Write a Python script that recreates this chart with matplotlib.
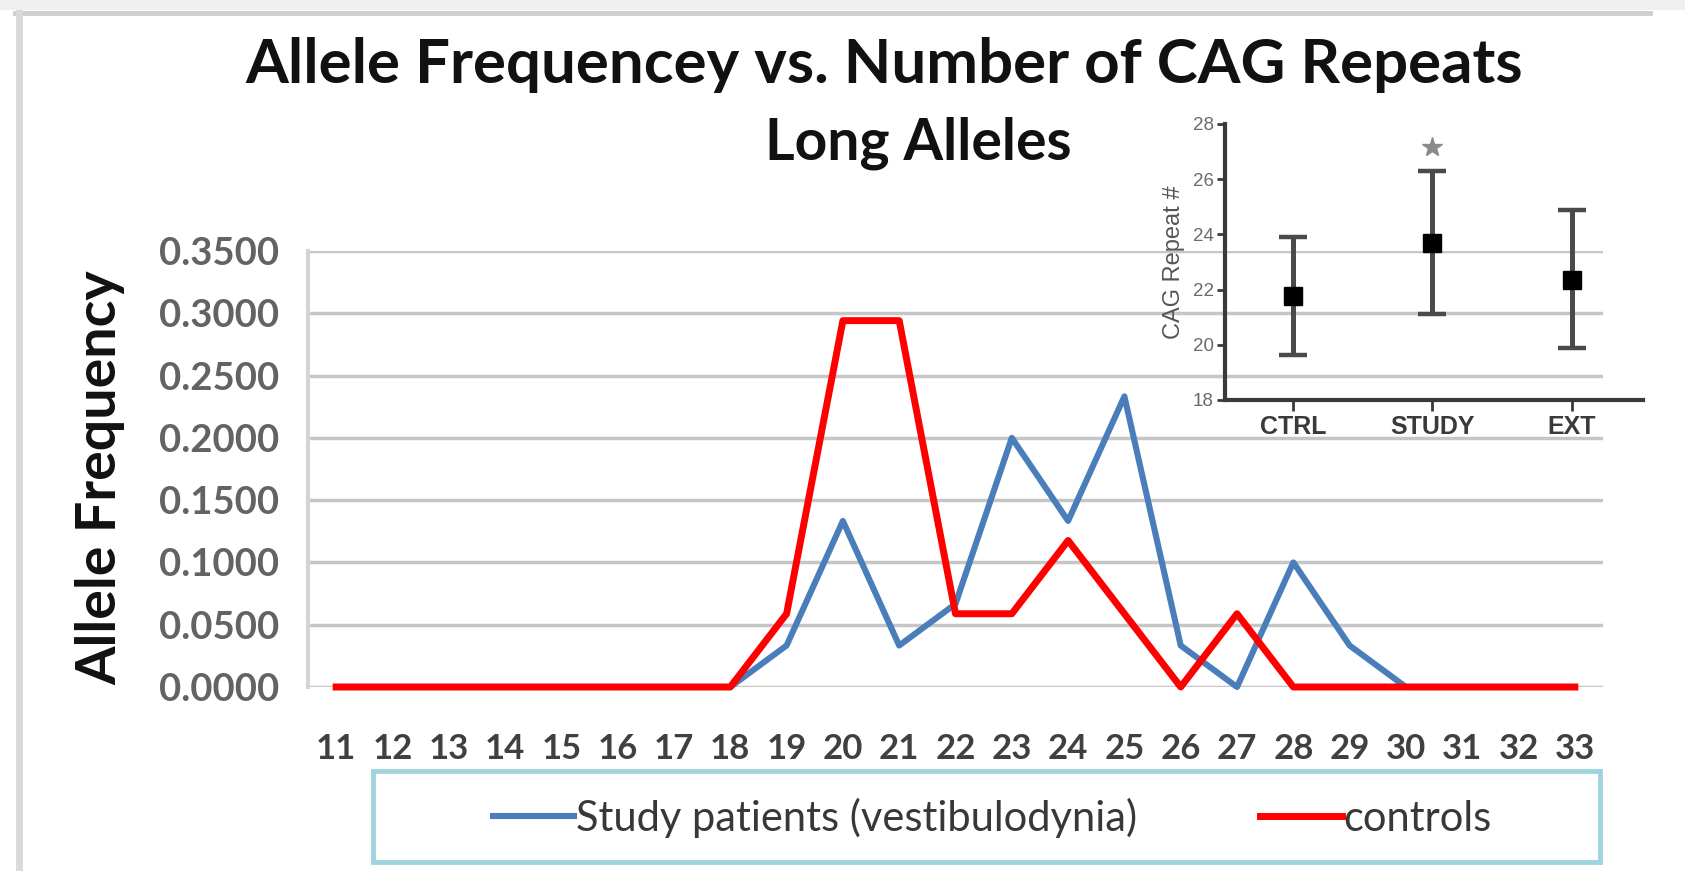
import matplotlib
matplotlib.use('Agg')
import matplotlib.pyplot as plt
from matplotlib.patches import Rectangle
from matplotlib.lines import Line2D
import numpy as np

# ---------------- data ----------------
repeats = [str(r) for r in range(11, 34)]
study = [0, 0, 0, 0, 0, 0, 0, 0,
         0.0333, 0.1333, 0.0333, 0.0667, 0.2000, 0.1333, 0.2333,
         0.0333, 0.0000, 0.1000, 0.0333, 0, 0, 0, 0]
controls = [0, 0, 0, 0, 0, 0, 0, 0,
            0.0588, 0.2941, 0.2941, 0.0588, 0.0588, 0.1176, 0.0588,
            0.0000, 0.0588, 0.0000, 0, 0, 0, 0, 0]
series_names = ["Study patients (vestibulodynia)", "controls"]
y_ticks = [0.0, 0.05, 0.10, 0.15, 0.20, 0.25, 0.30, 0.35]

inset_groups = ["CTRL", "STUDY", "EXT"]
inset_mean = [21.75, 23.70, 22.36]
inset_low = [19.64, 21.13, 19.90]
inset_high = [23.90, 26.29, 24.90]
inset_ticks = [18, 20, 22, 24, 26, 28]
star_y = 27.16

title_line1 = "Allele Frequencey vs. Number of CAG Repeats"
title_line2 = "Long Alleles"

# ---------------- figure ----------------
W, H = 1685, 871
fig = plt.figure(figsize=(W / 100, H / 100), dpi=100)
fig.patch.set_facecolor('white')

def fx(px):
    return px / W

def fy(py):
    return 1 - py / H

# outer chart-area frame
fig.patches.append(Rectangle((0, fy(10)), 1, 10 / H, transform=fig.transFigure,
                             facecolor='#efefef', edgecolor='none', zorder=0))
fig.add_artist(Line2D([fx(15), fx(1650)], [fy(13), fy(13)], transform=fig.transFigure,
                      color='#cfcfcf', lw=3.5))
fig.add_artist(Line2D([fx(19), fx(19)], [fy(13), fy(871)], transform=fig.transFigure,
                      color='#dadada', lw=5))

# ---------------- main axes ----------------
ax = fig.add_axes([fx(308), fy(687), fx(1603) - fx(308), (687 - 251) / H])
x = np.arange(len(repeats))
ax.plot(x, study, color='#4A7EBB', lw=4.4, label=series_names[0], clip_on=False,
        zorder=3)
ax.plot(x, controls, color='#FF0000', lw=5.0, label=series_names[1], clip_on=False,
        zorder=4)
ax.set_xlim(-0.5, len(repeats) - 0.5)
ax.set_ylim(0, 0.35)
ax.set_yticks(y_ticks)
ax.set_yticklabels([f"{v:.4f}" for v in y_ticks])
ax.set_xticks(x)
ax.set_xticklabels(repeats)
ax.yaxis.grid(True, color='#c6c6c6', lw=2.5)
ax.set_axisbelow(True)
for s in ['top', 'right', 'bottom']:
    ax.spines[s].set_visible(False)
ax.spines['left'].set_color('#d4d4d4')
ax.spines['left'].set_linewidth(3)
ax.tick_params(axis='both', length=0)
ax.tick_params(axis='y', pad=21)
ax.tick_params(axis='x', pad=33)
for lab in ax.get_yticklabels():
    lab.set_fontfamily('Lato')
    lab.set_fontweight('bold')
    lab.set_fontsize(27.5)
    lab.set_color('#636363')
for lab in ax.get_xticklabels():
    lab.set_fontfamily('Lato')
    lab.set_fontweight('bold')
    lab.set_fontsize(25)
    lab.set_color('#404040')
ax.set_facecolor('white')

# titles and axis label
fig.text(fx(884), fy(83), title_line1, ha='center', va='baseline',
         fontsize=44.5, fontweight='bold', family='Lato', color='#111111')
fig.text(fx(918), fy(159), title_line2, ha='center', va='baseline',
         fontsize=41, fontweight='bold', family='Lato', color='#111111')
fig.text(fx(100), fy(478), "Allele Frequency", rotation=90, ha='center', va='center',
         fontsize=40, fontweight='bold', family='Lato', color='#111111')

# legend
fig.patches.append(Rectangle((fx(373), fy(862)), (1600 - 373) / W, (862 - 771) / H,
                             transform=fig.transFigure, facecolor='white',
                             edgecolor='#9fd4de', lw=3.5, zorder=1))
handles, labels = ax.get_legend_handles_labels()
leg = fig.legend(handles, labels, loc='center left', bbox_to_anchor=(fx(493), fy(818)),
                 ncol=2, frameon=False, borderpad=0, borderaxespad=0,
                 handlelength=1.95, handletextpad=0.05, columnspacing=2.95,
                 prop={'family': 'Lato', 'size': 30})
for t in leg.get_texts():
    t.set_color('#383838')

# ---------------- inset ----------------
ia = fig.add_axes([fx(1225), fy(400), fx(1643) - fx(1225), (400 - 124) / H])
ia.patch.set_alpha(0)
gx = np.arange(len(inset_groups))
mean = np.array(inset_mean)
err = np.array([mean - np.array(inset_low), np.array(inset_high) - mean])
ia.errorbar(gx, mean, yerr=err, fmt='s', color='black', ms=13,
            ecolor='#4a4a4a', elinewidth=3.6, capsize=10, capthick=3.2,
            clip_on=False, zorder=5)
ia.plot([gx[1]], [star_y], marker='*', color='#8a8a8a', ms=15, ls='none',
        clip_on=False)
ia.set_xlim(-0.487, 2.509)
ia.set_ylim(18, 28)
ia.set_yticks(inset_ticks)
ia.set_xticks(gx)
ia.set_xticklabels(inset_groups)
for s in ['top', 'right']:
    ia.spines[s].set_visible(False)
for s in ['left', 'bottom']:
    ia.spines[s].set_color('#3a3a3a')
    ia.spines[s].set_linewidth(3)
ia.tick_params(axis='y', length=6, width=2, color='#3a3a3a', pad=2,
               labelsize=13.5, labelcolor='#6a6a6a')
ia.tick_params(axis='x', length=8, width=2, color='#3a3a3a', pad=3,
               labelsize=18, labelcolor='#3a3a3a')
for lab in ia.get_xticklabels():
    lab.set_fontfamily('Liberation Sans')
    lab.set_fontweight('bold')
for lab in ia.get_yticklabels():
    lab.set_fontfamily('Liberation Sans')
ia.set_ylabel("CAG Repeat #", fontsize=17, family='Liberation Sans', color='#555555',
              labelpad=6)

fig.savefig('out.png', dpi=100, facecolor='white')
